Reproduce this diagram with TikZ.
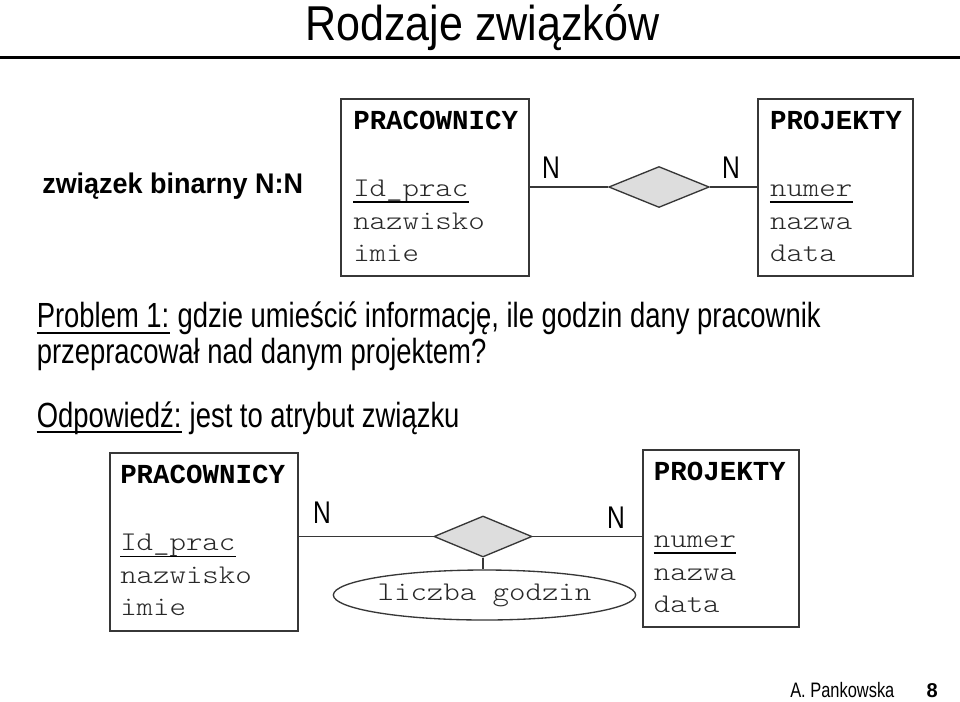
\documentclass[tikz,border=0pt]{standalone}
\usepackage{fontspec}
\setmainfont{Liberation Sans}
\newfontfamily\condfont[FakeStretch=0.785]{Liberation Sans}
\newfontfamily\titlefont[FakeStretch=0.88]{Liberation Sans}
\newfontfamily\labelfont[FakeStretch=0.95]{Liberation Sans Bold}
\newfontfamily\codefont[FakeStretch=1.16]{lmmonolt10-regular.otf}
\newfontfamily\codeheadfont{Liberation Mono Bold}
\usetikzlibrary{shapes.geometric,fit}
\definecolor{linec}{RGB}{55,55,55}
\definecolor{dfill}{RGB}{221,221,221}
\definecolor{codec}{RGB}{40,40,40}
\begin{document}
\begin{tikzpicture}[x=0.75pt,y=-0.75pt,
  txt/.style={inner sep=0pt, anchor=base west},
  body/.style={txt, font=\condfont\fontsize{26.2}{30}\selectfont},
  code/.style={txt, text=codec, font=\codefont\fontsize{20.25}{24}\selectfont},
  codeb/.style={txt, font=\codeheadfont\fontsize{20.6}{24}\selectfont},
  card/.style={inner sep=0pt, anchor=base, font=\condfont\fontsize{23.5}{28}\selectfont},
  ebox/.style={draw=linec, line width=1.2pt, inner sep=0pt},
  rel/.style={diamond, draw=linec, fill=dfill, line width=1pt, inner sep=0pt, minimum height=30.75pt},
  attr/.style={ellipse, draw=linec, line width=1pt, inner sep=0pt, minimum width=186.75pt, minimum height=37.5pt, text=codec, font=\codefont\fontsize{20.25}{24}\selectfont},
  conn/.style={draw=linec, line width=1.1pt},
  uline/.style={line width=1.4pt}
]
\useasboundingbox (0,0) rectangle (960,701);
\fill[white] (0,0) rectangle (960,701);

% title
\node[txt, font=\titlefont\fontsize{36.7}{40}\selectfont] (title) at (305,40) {Rodzaje związków};
\draw[line width=2.25pt] (0,57) -- (960,57);

% label
\node[txt, font=\labelfont\fontsize{21.3}{24}\selectfont] (lbl) at (42,193.5) {związek binarny N:N};

% top diagram
\node[ebox, fit={(341,99) (529,276)}] (b1) {};
\node[codeb] (t1h) at (353,129.3) {PRACOWNICY};
\node[code] (t1a) at (353,196.7) {Id\_prac};
\node[code] (t1b) at (353,229) {nazwisko};
\node[code] (t1c) at (353,261.7) {imie};
\draw[uline] ([yshift=-4.2pt]t1a.base west) -- ([yshift=-4.2pt]t1a.base east);

\node[ebox, fit={(758,99) (913,276)}] (b2) {};
\node[codeb] (t2h) at (769.8,129.3) {PROJEKTY};
\node[code] (t2a) at (769.8,196.7) {numer};
\node[code] (t2b) at (769.8,229) {nazwa};
\node[code] (t2c) at (769.8,261.7) {data};
\draw[uline] ([yshift=-4.2pt]t2a.base west) -- ([yshift=-4.2pt]t2a.base east);

\node[rel, minimum width=75.4pt] (d1) at (659,187) {};
\draw[conn] (b1.east |- d1.west) -- (d1.west);
\draw[conn] (d1.east) -- (b2.west |- d1.east);
\node[card] (n1) at (551,178) {N};
\node[card] (n2) at (731,178) {N};

% texts
\node[body] (p1) at (36.5,327) {Problem 1:};
\node[body] (p1r) at (p1.base east) {\ gdzie umieścić informację, ile godzin dany pracownik};
\draw[uline] ([yshift=-4.5pt]p1.base west) -- ([yshift=-4.5pt]p1.base east);
\node[body] (p2) at (36.5,363) {przepracował nad danym projektem?};
\node[body] (o1) at (36.5,427) {Odpowiedź:};
\node[body] (o1r) at (o1.base east) {\ jest to atrybut związku};
\draw[uline] ([yshift=-3.9pt]o1.base west) -- ([yshift=-3.9pt]o1.base east);

% bottom diagram
\node[ebox, fit={(110,453) (298,631)}] (b3) {};
\node[codeb] (t3h) at (120,483.3) {PRACOWNICY};
\node[code] (t3a) at (120,550.7) {Id\_prac};
\node[code] (t3b) at (120,583.3) {nazwisko};
\node[code] (t3c) at (120,615.7) {imie};
\draw[uline] ([yshift=-4.3pt]t3a.base west) -- ([yshift=-4.3pt]t3a.base east);

\node[ebox, fit={(643,450) (799,627)}] (b4) {};
\node[codeb] (t4h) at (653.6,480) {PROJEKTY};
\node[code] (t4a) at (653.6,547.3) {numer};
\node[code] (t4b) at (653.6,580) {nazwa};
\node[code] (t4c) at (653.6,612.7) {data};
\draw[uline] ([yshift=-4.3pt]t4a.base west) -- ([yshift=-4.3pt]t4a.base east);

\node[rel, minimum width=73.5pt] (d2) at (483,536.5) {};
\draw[conn] (b3.east |- d2.west) -- (d2.west);
\draw[conn] (d2.east) -- (b4.west |- d2.east);
\node[attr] (e1) at (484.5,595) {liczba godzin};
\draw[conn] (d2.south) -- (d2.south |- e1.north);
\node[card] (n3) at (322,523) {N};
\node[card] (n4) at (616,528) {N};

% footer
\node[txt, font=\condfont\fontsize{15.7}{18}\selectfont] (ft) at (790,697) {A. Pankowska};
\node[inner sep=0pt, anchor=base east, font=\bfseries\fontsize{15}{18}\selectfont] (pg) at (938,697) {8};
\end{tikzpicture}
\end{document}
